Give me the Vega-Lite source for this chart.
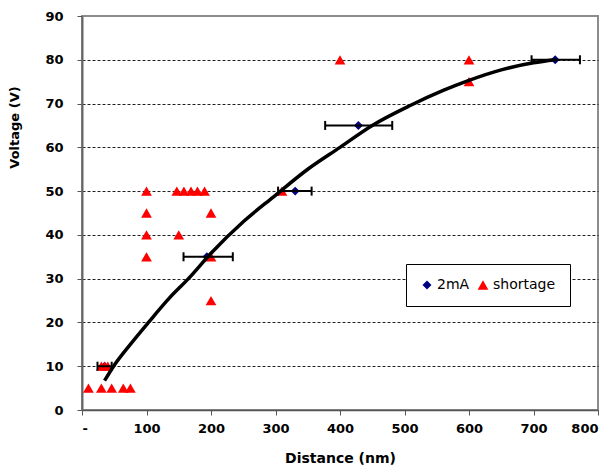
{
  "$schema": "https://vega.github.io/schema/vega-lite/v6.json",
  "width": 516,
  "height": 394,
  "autosize": {"type": "none"},
  "padding": {"left": 82, "top": 16, "right": 17, "bottom": 64},
  "background": "white",
  "config": {
    "font": "DejaVu Sans",
    "view": {"stroke": "#8c8c8c", "strokeWidth": 2}
  },
  "datasets": {
    "pts": [
      {"distance": 35, "voltage": 10, "series": "2mA"},
      {"distance": 193.6, "voltage": 35, "series": "2mA"},
      {"distance": 330.5, "voltage": 50, "series": "2mA"},
      {"distance": 428.5, "voltage": 65, "series": "2mA"},
      {"distance": 733.6, "voltage": 80, "series": "2mA"},
      {"distance": 100, "voltage": 50, "series": "shortage"},
      {"distance": 147, "voltage": 50, "series": "shortage"},
      {"distance": 158, "voltage": 50, "series": "shortage"},
      {"distance": 169, "voltage": 50, "series": "shortage"},
      {"distance": 179, "voltage": 50, "series": "shortage"},
      {"distance": 190, "voltage": 50, "series": "shortage"},
      {"distance": 310, "voltage": 50, "series": "shortage"},
      {"distance": 400, "voltage": 80, "series": "shortage"},
      {"distance": 600, "voltage": 80, "series": "shortage"},
      {"distance": 600, "voltage": 75, "series": "shortage"},
      {"distance": 100, "voltage": 45, "series": "shortage"},
      {"distance": 200, "voltage": 45, "series": "shortage"},
      {"distance": 100, "voltage": 40, "series": "shortage"},
      {"distance": 150, "voltage": 40, "series": "shortage"},
      {"distance": 100, "voltage": 35, "series": "shortage"},
      {"distance": 200, "voltage": 35, "series": "shortage"},
      {"distance": 200, "voltage": 25, "series": "shortage"},
      {"distance": 30, "voltage": 10, "series": "shortage"},
      {"distance": 35, "voltage": 10, "series": "shortage"},
      {"distance": 40, "voltage": 10, "series": "shortage"},
      {"distance": 10, "voltage": 5, "series": "shortage"},
      {"distance": 30, "voltage": 5, "series": "shortage"},
      {"distance": 46, "voltage": 5, "series": "shortage"},
      {"distance": 64, "voltage": 5, "series": "shortage"},
      {"distance": 75, "voltage": 5, "series": "shortage"}
    ],
    "err": [
      {"voltage": 10, "lo": 24, "hi": 46},
      {"voltage": 35, "lo": 157.4, "hi": 233.8},
      {"voltage": 50, "lo": 304, "hi": 356},
      {"voltage": 65, "lo": 377, "hi": 481},
      {"voltage": 80, "lo": 697, "hi": 772}
    ],
    "trend": [
      {"distance": 35, "voltage": 6.7},
      {"distance": 49, "voltage": 10},
      {"distance": 75, "voltage": 15},
      {"distance": 103, "voltage": 20},
      {"distance": 135, "voltage": 25.5},
      {"distance": 165, "voltage": 30},
      {"distance": 200, "voltage": 35.8},
      {"distance": 250, "voltage": 43},
      {"distance": 297, "voltage": 48.7},
      {"distance": 350, "voltage": 55},
      {"distance": 400, "voltage": 60},
      {"distance": 450, "voltage": 65},
      {"distance": 508, "voltage": 69.5},
      {"distance": 560, "voltage": 73},
      {"distance": 600, "voltage": 75.3},
      {"distance": 650, "voltage": 77.7},
      {"distance": 700, "voltage": 79.3},
      {"distance": 734, "voltage": 80}
    ]
  },
  "layer": [
    {
      "data": {"name": "pts"},
      "mark": {"type": "point", "filled": true, "opacity": 1},
      "encoding": {
        "x": {
          "field": "distance", "type": "quantitative", "title": "Distance (nm)",
          "scale": {"domain": [0, 800], "nice": false},
          "axis": {
            "values": [0, 100, 200, 300, 400, 500, 600, 700, 800],
            "grid": false,
            "labelExpr": "datum.value === 0 ? '-' : datum.label",
            "labelFont": "DejaVu Sans", "labelFontWeight": "bold", "labelFontSize": 13, "labelColor": "#000",
            "labelPadding": 7, "tickSize": 5, "tickColor": "#555", "tickWidth": 1,
            "domainColor": "#555", "domainWidth": 1.5,
            "titleFont": "DejaVu Sans", "titleFontWeight": "bold", "titleFontSize": 14, "titleColor": "#000",
            "titlePadding": 16
          }
        },
        "y": {
          "field": "voltage", "type": "quantitative", "title": "Voltage (V)",
          "scale": {"domain": [0, 90], "nice": false},
          "axis": {
            "values": [0, 10, 20, 30, 40, 50, 60, 70, 80, 90],
            "grid": true,
            "gridDash": [3, 2],
            "gridColor": {"condition": {"test": "datum.value == 0 || datum.value == 90", "value": "transparent"}, "value": "#222"},
            "gridWidth": 1,
            "labelFont": "DejaVu Sans", "labelFontWeight": "bold", "labelFontSize": 13, "labelColor": "#000",
            "labelPadding": 14, "tickSize": 5, "tickColor": "#555", "tickWidth": 1,
            "domainColor": "#666", "domainWidth": 2,
            "titleFont": "DejaVu Sans", "titleFontWeight": "bold", "titleFontSize": 13, "titleColor": "#000",
            "titleX": -61, "titleY": 111
          }
        },
        "color": {
          "field": "series", "type": "nominal",
          "scale": {"domain": ["2mA", "shortage"], "range": ["#000080", "#ff0000"]},
          "legend": {
            "title": null, "orient": "none", "legendX": 324, "legendY": 248,
            "direction": "horizontal", "strokeColor": "#000", "fillColor": "white",
            "padding": 14, "columnPadding": 6, "labelFontSize": 14, "labelFont": "DejaVu Sans",
            "labelColor": "#000", "symbolSize": 50, "labelOffset": 3
          }
        },
        "shape": {
          "field": "series", "type": "nominal",
          "scale": {"domain": ["2mA", "shortage"], "range": ["diamond", "triangle-up"]}
        },
        "size": {
          "field": "series", "type": "nominal",
          "scale": {"domain": ["2mA", "shortage"], "range": [80, 115]},
          "legend": null
        }
      }
    },
    {
      "data": {"name": "err"},
      "mark": {"type": "rule", "color": "#000", "strokeWidth": 2},
      "encoding": {
        "x": {"field": "lo", "type": "quantitative", "title": "Distance (nm)"},
        "x2": {"field": "hi"},
        "y": {"field": "voltage", "type": "quantitative", "title": "Voltage (V)"}
      }
    },
    {
      "data": {"name": "err"},
      "mark": {"type": "tick", "orient": "vertical", "color": "#000", "size": 9, "thickness": 2, "opacity": 1},
      "encoding": {
        "x": {"field": "lo", "type": "quantitative", "title": "Distance (nm)"},
        "y": {"field": "voltage", "type": "quantitative", "title": "Voltage (V)"}
      }
    },
    {
      "data": {"name": "err"},
      "mark": {"type": "tick", "orient": "vertical", "color": "#000", "size": 9, "thickness": 2, "opacity": 1},
      "encoding": {
        "x": {"field": "hi", "type": "quantitative", "title": "Distance (nm)"},
        "y": {"field": "voltage", "type": "quantitative", "title": "Voltage (V)"}
      }
    },
    {
      "data": {"name": "trend"},
      "mark": {"type": "line", "color": "#000", "strokeWidth": 3.5, "interpolate": "monotone"},
      "encoding": {
        "x": {"field": "distance", "type": "quantitative", "title": "Distance (nm)"},
        "y": {"field": "voltage", "type": "quantitative", "title": "Voltage (V)"}
      }
    }
  ]
}
